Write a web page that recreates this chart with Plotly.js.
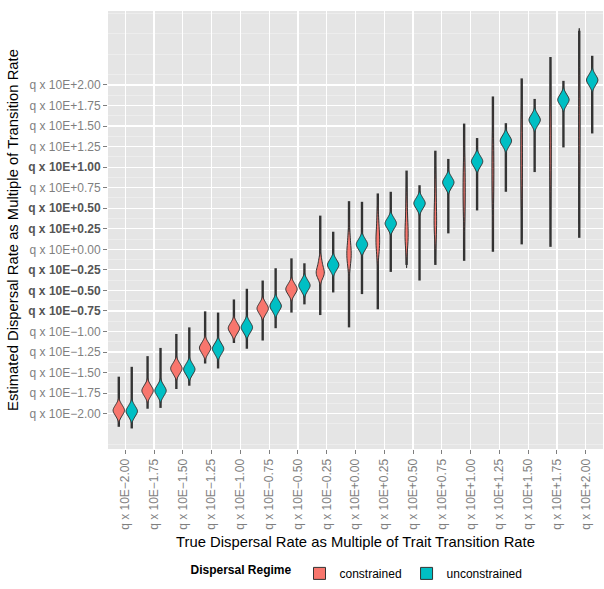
<!DOCTYPE html>
<html><head><meta charset="utf-8">
<script src="https://cdn.plot.ly/plotly-3.0.1.min.js"></script>
<style>html,body{margin:0;padding:0;background:#fff}#chart{width:604px;height:589px}</style>
</head><body><div id="chart"></div>
<script>
// ---- data ----
const categories = [
  "q x 10E−2.00","q x 10E−1.75","q x 10E−1.50","q x 10E−1.25","q x 10E−1.00",
  "q x 10E−0.75","q x 10E−0.50","q x 10E−0.25","q x 10E+0.00","q x 10E+0.25",
  "q x 10E+0.50","q x 10E+0.75","q x 10E+1.00","q x 10E+1.25","q x 10E+1.50",
  "q x 10E+1.75","q x 10E+2.00"
];
const yTickVals = [-2,-1.75,-1.5,-1.25,-1,-0.75,-0.5,-0.25,0,0.25,0.5,0.75,1,1.25,1.5,1.75,2];
const yTickLabels = [
  "q x 10E−2.00","q x 10E−1.75","q x 10E−1.50","q x 10E−1.25","q x 10E−1.00",
  "q x 10E−0.75","q x 10E−0.50","q x 10E−0.25","q x 10E+0.00","q x 10E+0.25",
  "q x 10E+0.50","q x 10E+0.75","q x 10E+1.00","q x 10E+1.25","q x 10E+1.50",
  "q x 10E+1.75","q x 10E+2.00"
];
const yTickDark = [false,false,false,false,false,true,true,true,false,true,true,false,true,false,false,false,false];

// constrained regime: bulk of estimates (per true rate) and extreme estimates
const constrainedCore = [
  [-2.04,-2.00,-1.975,-1.96,-1.945,-1.92,-1.88],
  [-1.80,-1.76,-1.735,-1.72,-1.705,-1.68,-1.64],
  [-1.53,-1.49,-1.465,-1.45,-1.435,-1.41,-1.37],
  [-1.28,-1.24,-1.215,-1.20,-1.185,-1.16,-1.12],
  [-1.04,-1.00,-0.975,-0.96,-0.945,-0.92,-0.88],
  [-0.80,-0.76,-0.735,-0.72,-0.705,-0.68,-0.64],
  [-0.565,-0.525,-0.50,-0.485,-0.47,-0.445,-0.405],
  [-0.34,-0.31,-0.29,-0.27,-0.24,-0.19,-0.12],
  [-0.20,-0.13,-0.08,-0.04,0.01,0.08,0.20],
  [-0.06,0.03,0.08,0.13,0.19,0.28,0.42],
  [0.05,0.11,0.16,0.22,0.30,0.42,0.60],
  [0.18,0.26,0.32,0.40,0.50,0.65,0.85],
  [0.35,0.50,0.62,0.72,0.82,0.95,1.10],
  [0.50,0.68,0.82,0.95,1.08,1.22,1.40],
  [0.62,0.82,0.97,1.12,1.27,1.42,1.58],
  [0.72,0.95,1.12,1.27,1.42,1.58,1.80],
  [0.90,1.15,1.35,1.50,1.65,1.85,2.10]
];
const constrainedLow  = [-2.16,-1.94,-1.70,-1.39,-1.14,-1.11,-0.77,-0.80,-0.95,-0.73,-0.19,-0.19,-0.14,-0.03,0.06,0.03,0.14];
const constrainedHigh = [-1.55,-1.30,-1.03,-0.755,-0.61,-0.38,-0.11,0.41,0.586,0.68,0.958,1.20,1.53,1.86,2.08,2.34,2.66];

// unconstrained regime
const unconstrainedCore = [
  [-2.05,-2.01,-1.985,-1.97,-1.955,-1.93,-1.89],
  [-1.80,-1.76,-1.735,-1.72,-1.705,-1.68,-1.64],
  [-1.54,-1.50,-1.475,-1.46,-1.445,-1.42,-1.38],
  [-1.29,-1.25,-1.225,-1.21,-1.195,-1.17,-1.13],
  [-1.03,-0.99,-0.965,-0.95,-0.935,-0.91,-0.87],
  [-0.77,-0.73,-0.705,-0.69,-0.675,-0.65,-0.61],
  [-0.52,-0.48,-0.455,-0.44,-0.425,-0.40,-0.36],
  [-0.27,-0.23,-0.205,-0.19,-0.175,-0.15,-0.11],
  [-0.02,0.02,0.045,0.06,0.075,0.10,0.14],
  [0.235,0.275,0.30,0.315,0.33,0.355,0.395],
  [0.48,0.52,0.545,0.56,0.575,0.60,0.64],
  [0.735,0.775,0.80,0.815,0.83,0.855,0.895],
  [0.99,1.03,1.055,1.07,1.085,1.11,1.15],
  [1.24,1.28,1.305,1.32,1.335,1.36,1.40],
  [1.495,1.535,1.56,1.575,1.59,1.615,1.655],
  [1.74,1.78,1.805,1.82,1.835,1.86,1.90],
  [1.98,2.02,2.045,2.06,2.075,2.10,2.14]
];
const unconstrainedLow  = [-2.18,-1.93,-1.66,-1.45,-1.21,-0.96,-0.67,-0.525,-0.545,-0.275,-0.38,0.194,0.473,0.70,0.94,1.24,1.41];
const unconstrainedHigh = [-1.43,-1.20,-0.95,-0.77,-0.48,-0.23,-0.17,0.214,0.578,0.70,0.78,1.10,1.354,1.535,1.83,2.05,2.355];

const regimeNames = ["constrained","unconstrained"];
const regimeColors = ["#F8766D","#00BFC4"];

// ---- build ----
const violinGap = 0.1;
const dodge = (1 - violinGap) / 4;

function violinTrace(name, core, color) {
  const x = [], y = [];
  core.forEach((vals, i) => vals.forEach(v => { x.push(categories[i]); y.push(v); }));
  return {
    type: 'violin', name: name, x: x, y: y,
    fillcolor: color, line: {color: '#333333', width: 1},
    points: false, spanmode: 'soft', scalegroup: 'all', scalemode: 'width',
    box: {visible: false}, meanline: {visible: false}, hoverinfo: 'skip'
  };
}
function tailShapes(lo, hi, off) {
  return lo.map((l, i) => ({
    type: 'line', xref: 'x', yref: 'y', x0: i + off, x1: i + off, y0: l, y1: hi[i],
    layer: 'between', line: {color: '#333333', width: 2.4}
  }));
}

const data = [
  violinTrace(regimeNames[0], constrainedCore, regimeColors[0]),
  violinTrace(regimeNames[1], unconstrainedCore, regimeColors[1])
];
const shapes = tailShapes(constrainedLow, constrainedHigh, -dodge)
  .concat(tailShapes(unconstrainedLow, unconstrainedHigh, dodge));

const yText = yTickLabels.map((t, i) => yTickDark[i] ? '<span style="color:#555555"><b>' + t + '</b></span>' : t);

const layout = {
  width: 604, height: 589,
  margin: {l: 108, r: 1, t: 11, b: 140},
  paper_bgcolor: '#ffffff', plot_bgcolor: '#E5E5E5',
  font: {family: 'Liberation Sans, Arial, sans-serif', size: 12, color: '#000000'},
  violinmode: 'group', violingap: violinGap, violingroupgap: 0.12,
  showlegend: true,
  legend: {
    orientation: 'h', x: 0.505, xanchor: 'center', y: -0.284, yanchor: 'middle',
    title: {text: '<b>Dispersal Regime</b>', side: 'left', font: {size: 12}},
    font: {size: 12}, bgcolor: 'rgba(0,0,0,0)', itemwidth: 30, tracegroupgap: 0
  },
  xaxis: {
    type: 'category', categoryorder: 'array', categoryarray: categories,
    range: [-0.6, 16.6], tickangle: -90, ticks: 'outside', ticklen: 4, tickcolor: '#7F7F7F',
    tickfont: {color: '#7F7F7F', size: 12}, showgrid: true, gridcolor: '#ffffff', gridwidth: 1.2,
    zeroline: false, showline: false,
    title: {text: 'True Dispersal Rate as Multiple of Trait Transition Rate', font: {size: 14.8}, standoff: 7}
  },
  yaxis: {
    range: [-2.43, 2.9], tickmode: 'array', tickvals: yTickVals, ticktext: yText,
    ticks: 'outside', ticklen: 4, tickcolor: '#7F7F7F',
    tickfont: {color: '#7F7F7F', size: 12}, showgrid: true, gridcolor: '#ffffff', gridwidth: 1.2,
    zeroline: false, showline: false,
    minor: {tickmode: 'linear', tick0: -2.125, dtick: 0.25, showgrid: true, gridcolor: '#F2F2F2', gridwidth: 0.6, ticks: ''},
    title: {text: 'Estimated Dispersal Rate as Multiple of Transition Rate', font: {size: 14.8}, standoff: 6}
  },
  shapes: shapes
};

Plotly.newPlot('chart', data, layout, {staticPlot: true});
</script>
</body></html>
